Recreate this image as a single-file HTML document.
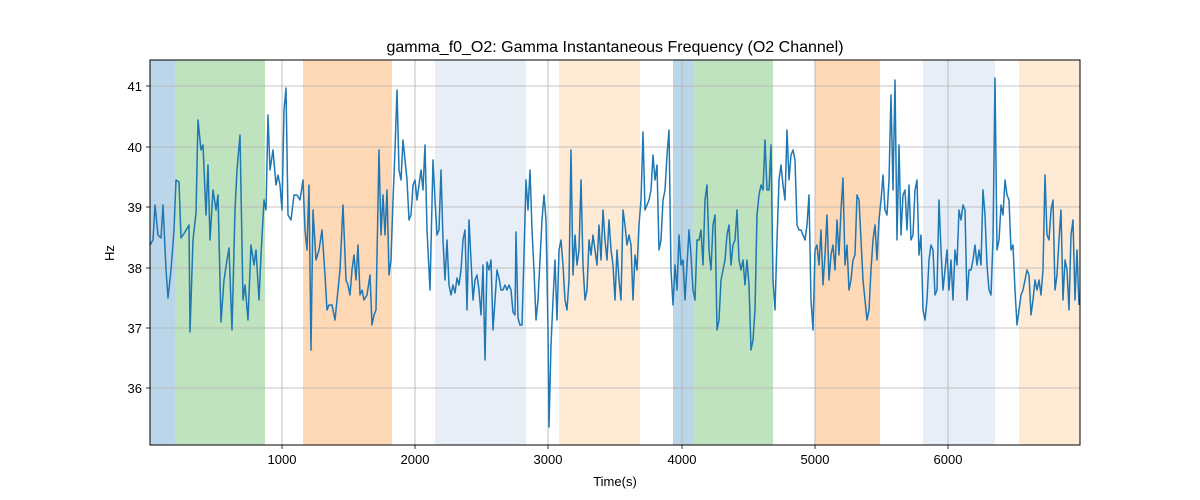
<!DOCTYPE html>
<html><head><meta charset="utf-8"><style>
html,body{margin:0;padding:0;background:#fff;}
svg{display:block;font-family:"Liberation Sans","DejaVu Sans",sans-serif;}
</style></head><body>
<svg width="1200" height="500" viewBox="0 0 1200 500" xmlns="http://www.w3.org/2000/svg">
<rect width="1200" height="500" fill="#fff"/>
<!-- bands -->
<rect x="150" y="60" width="25" height="385" fill="#1f77b4" fill-opacity="0.3"/>
<rect x="175" y="60" width="90" height="385" fill="#2ca02c" fill-opacity="0.3"/>
<rect x="303" y="60" width="89" height="385" fill="#ff7f0e" fill-opacity="0.3"/>
<rect x="435" y="60" width="91" height="385" fill="#aec7e8" fill-opacity="0.3"/>
<rect x="559" y="60" width="81" height="385" fill="#ffbb78" fill-opacity="0.3"/>
<rect x="673" y="60" width="20" height="385" fill="#1f77b4" fill-opacity="0.3"/>
<rect x="693" y="60" width="80" height="385" fill="#2ca02c" fill-opacity="0.3"/>
<rect x="815" y="60" width="65" height="385" fill="#ff7f0e" fill-opacity="0.3"/>
<rect x="923" y="60" width="72" height="385" fill="#aec7e8" fill-opacity="0.3"/>
<rect x="1019" y="60" width="61" height="385" fill="#ffbb78" fill-opacity="0.3"/>
<!-- grid -->
<g stroke="#b0b0b0" stroke-width="0.8">
<line x1="282" y1="60" x2="282" y2="445"/><line x1="415" y1="60" x2="415" y2="445"/>
<line x1="548" y1="60" x2="548" y2="445"/><line x1="682" y1="60" x2="682" y2="445"/>
<line x1="815" y1="60" x2="815" y2="445"/><line x1="948" y1="60" x2="948" y2="445"/>
<line x1="150" y1="86" x2="1080" y2="86"/><line x1="150" y1="147" x2="1080" y2="147"/>
<line x1="150" y1="207" x2="1080" y2="207"/><line x1="150" y1="268" x2="1080" y2="268"/>
<line x1="150" y1="328" x2="1080" y2="328"/><line x1="150" y1="388" x2="1080" y2="388"/>
</g>
<polyline fill="none" stroke="#1f77b4" stroke-width="1.5" stroke-linejoin="round" points="150,245 153,240 155,205 158,235 161,238 163,205 166,270 168,298 171,270 174,230 176,180 179,182 181,238 185,232 189,225 190,332 193,240 196,213 198,120 201,150 203,145 206,215 208,165 210,240 213,190 216,210 218,195 221,322 224,280 227,260 229,248 232,330 235,210 237,170 240,135 243,300 245,285 248,320 251,245 254,265 256,250 259,300 261,255 264,200 266,210 268,115 270,170 273,150 276,185 278,175 280,185 282,210 284,110 286,88 288,215 291,220 294,195 297,195 300,200 303,180 305,230 307,250 309,185 311,350 313,210 316,260 319,250 322,230 325,275 327,310 329,305 332,305 335,320 337,300 340,270 343,205 346,280 348,285 350,295 352,270 354,255 356,280 358,245 360,295 362,290 364,300 367,295 370,275 372,325 374,315 376,310 379,150 381,235 383,195 385,235 387,190 389,275 391,260 393,200 395,150 397,90 399,170 401,180 403,140 405,160 407,180 409,220 411,215 413,185 415,180 417,200 419,185 421,170 423,190 425,145 427,230 430,290 433,160 435,200 437,235 439,230 441,170 443,240 445,280 447,240 449,285 451,295 453,285 455,293 457,278 459,285 461,270 463,240 465,230 467,310 469,220 471,260 473,300 475,280 477,275 479,290 481,315 483,265 485,360 487,262 489,270 491,260 493,330 495,300 497,270 499,278 501,290 503,290 505,285 507,290 509,285 511,290 513,312 515,315 516,232 518,318 520,325 522,325 524,255 526,180 528,210 530,170 532,230 534,270 536,320 538,300 540,260 542,220 544,195 546,220 548,330 549,427 551,345 553,300 555,260 557,320 559,250 561,240 563,265 565,300 567,310 569,280 571,150 573,275 575,235 577,265 579,250 581,180 583,265 585,300 587,290 589,240 591,255 593,235 595,250 597,265 599,225 601,260 603,210 605,240 607,260 609,220 611,250 613,265 615,300 617,250 619,280 621,300 623,210 625,225 627,245 629,235 631,245 633,300 635,255 637,270 639,225 641,200 643,132 645,210 647,205 649,200 651,190 653,155 655,180 657,165 659,250 661,240 663,200 665,190 667,155 669,130 671,270 673,305 675,265 677,290 679,235 681,265 683,260 685,300 687,265 689,230 691,255 693,290 695,300 697,240 699,240 701,230 703,265 705,200 707,185 709,250 711,270 713,225 715,215 717,330 719,320 721,280 723,270 725,260 727,235 729,225 731,265 733,245 735,240 737,210 739,260 741,270 743,260 745,285 747,260 749,285 751,350 753,340 755,310 757,215 759,195 761,185 763,190 765,140 767,190 769,190 771,145 773,280 775,310 777,240 779,180 781,165 783,185 785,200 787,130 789,180 791,155 793,150 795,160 797,225 799,230 801,230 803,235 805,240 807,225 809,195 811,300 813,330 815,250 817,245 819,265 821,230 823,285 825,255 827,215 829,280 831,255 833,245 835,270 837,220 839,255 841,210 843,178 845,265 847,245 849,290 851,280 853,260 855,255 857,195 859,200 861,240 863,280 865,300 867,320 869,310 871,270 873,240 875,225 877,260 879,220 881,200 883,175 885,210 887,215 889,180 891,95 893,190 895,80 897,240 899,145 901,235 903,195 905,190 907,230 909,185 911,240 913,235 915,190 917,180 919,255 921,235 923,310 925,320 927,300 929,260 931,245 933,250 935,295 937,290 939,200 941,250 943,290 945,270 947,250 949,290 951,260 953,300 955,250 957,265 959,210 961,220 963,205 965,210 967,300 969,270 971,270 973,260 975,245 977,265 979,250 981,265 983,190 985,215 987,265 989,290 991,295 993,240 995,78 997,250 999,240 1001,205 1003,215 1005,180 1007,195 1009,200 1011,250 1013,245 1015,290 1017,325 1019,310 1021,295 1023,290 1025,280 1027,270 1029,275 1031,315 1033,300 1035,280 1037,290 1039,280 1041,295 1043,270 1045,175 1047,235 1049,240 1051,210 1053,200 1055,290 1057,275 1059,240 1061,210 1063,300 1065,260 1067,270 1069,310 1071,235 1073,220 1075,300 1077,250 1079,305"/>
<rect x="150" y="60" width="930" height="385" fill="none" stroke="#000" stroke-width="1"/>
<g stroke="#000" stroke-width="0.8">
<line x1="282" y1="445" x2="282" y2="449"/><line x1="415" y1="445" x2="415" y2="449"/>
<line x1="548" y1="445" x2="548" y2="449"/><line x1="682" y1="445" x2="682" y2="449"/>
<line x1="815" y1="445" x2="815" y2="449"/><line x1="948" y1="445" x2="948" y2="449"/>
<line x1="146" y1="86" x2="150" y2="86"/><line x1="146" y1="147" x2="150" y2="147"/>
<line x1="146" y1="207" x2="150" y2="207"/><line x1="146" y1="268" x2="150" y2="268"/>
<line x1="146" y1="328" x2="150" y2="328"/><line x1="146" y1="388" x2="150" y2="388"/>
</g>
<g font-size="13" fill="#000" text-anchor="middle">
<text x="282" y="464">1000</text><text x="415" y="464">2000</text><text x="548" y="464">3000</text>
<text x="682" y="464">4000</text><text x="815" y="464">5000</text><text x="948" y="464">6000</text>
</g>
<g font-size="13" fill="#000" text-anchor="end">
<text x="142" y="91">41</text><text x="142" y="152">40</text><text x="142" y="212">39</text>
<text x="142" y="273">38</text><text x="142" y="333">37</text><text x="142" y="393">36</text>
</g>
<text x="615" y="486" font-size="13" text-anchor="middle">Time(s)</text>
<text x="114" y="253" font-size="13" text-anchor="middle" transform="rotate(-90 114 253)">Hz</text>
<text x="615" y="52" font-size="16" text-anchor="middle">gamma_f0_O2: Gamma Instantaneous Frequency (O2 Channel)</text>
</svg>
</body></html>
